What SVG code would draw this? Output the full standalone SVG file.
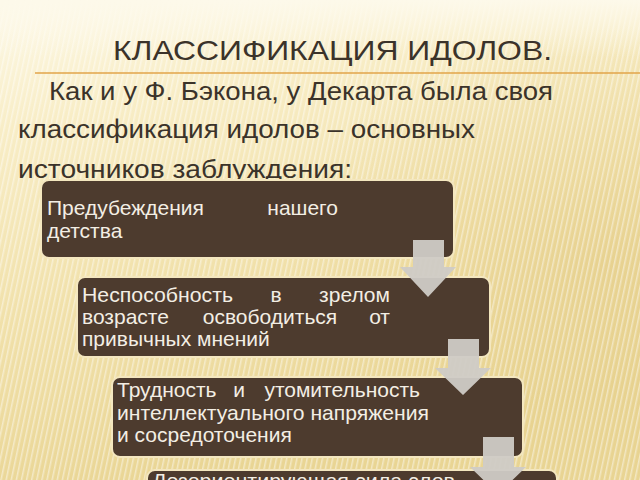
<svg xmlns="http://www.w3.org/2000/svg" width="640" height="480" viewBox="0 0 640 480">
<defs>
<linearGradient id="bg" x1="0" y1="0" x2="0.3" y2="1">
<stop offset="0" stop-color="#fdf9e8"/>
<stop offset="0.25" stop-color="#f8edc6"/>
<stop offset="0.6" stop-color="#f1e1ab"/>
<stop offset="1" stop-color="#e9d594"/>
</linearGradient>
<radialGradient id="glow" cx="0.95" cy="0.55" r="0.5">
<stop offset="0" stop-color="#e3cb85" stop-opacity="0.6"/>
<stop offset="1" stop-color="#e3cb85" stop-opacity="0"/>
</radialGradient>
<pattern id="stripes" width="5" height="40" patternUnits="userSpaceOnUse" patternTransform="rotate(12)">
<rect x="0" y="0" width="1.5" height="40" fill="#ffffff" opacity="0.45"/>
</pattern>
<linearGradient id="fadeTop" x1="0" y1="0" x2="0" y2="1">
<stop offset="0" stop-color="#fdf9ea" stop-opacity="1"/>
<stop offset="0.12" stop-color="#fdf9ea" stop-opacity="0"/>
</linearGradient>
<style>
.box{fill:#4d3b2e;stroke:#f4e7bf;stroke-width:2}
.bt{font-family:"Liberation Sans",Arial,sans-serif;font-size:21px;fill:#f3eee4}
.arrow{fill:#cfcbc6;opacity:0.95}
.title{font-family:"Liberation Sans",Arial,sans-serif;font-size:28px;fill:#3b332a}
.body{font-family:"Liberation Sans",Arial,sans-serif;font-size:25px;fill:#3b332a}
</style>
</defs>
<rect width="640" height="480" fill="url(#bg)"/>
<rect width="640" height="480" fill="url(#glow)"/>
<rect width="640" height="480" fill="url(#stripes)"/>
<rect width="640" height="480" fill="url(#fadeTop)"/>

<g id="header">
<text class="title" x="113" y="60" textLength="439" lengthAdjust="spacingAndGlyphs">КЛАССИФИКАЦИЯ ИДОЛОВ.</text>
<line x1="35" y1="73" x2="640" y2="73" stroke="#e2a54a" stroke-width="1.5"/>
<text class="body" x="49" y="100" textLength="504" lengthAdjust="spacingAndGlyphs">Как и у Ф. Бэкона, у Декарта была своя</text>
<text class="body" x="18" y="138" textLength="457" lengthAdjust="spacingAndGlyphs">классификация идолов – основных</text>
<text class="body" x="18" y="178" textLength="334" lengthAdjust="spacingAndGlyphs">источников заблуждения:</text>
</g>

<g id="node1">
<rect class="box" x="41" y="180" width="413" height="78" rx="8"/>
<text class="bt" x="47" y="215" textLength="157" lengthAdjust="spacingAndGlyphs">Предубеждения</text>
<text class="bt" x="338" y="215" text-anchor="end">нашего</text>
<text class="bt" x="47" y="238">детства</text>
</g>

<g id="node2">
<rect class="box" x="77" y="277" width="413" height="80" rx="8"/>
<text class="bt" x="82" y="302" textLength="151" lengthAdjust="spacingAndGlyphs">Неспособность</text>
<text class="bt" x="276" y="302" text-anchor="middle">в</text>
<text class="bt" x="390" y="302" text-anchor="end">зрелом</text>
<text class="bt" x="82" y="324">возрасте</text>
<text class="bt" x="270" y="324" text-anchor="middle">освободиться</text>
<text class="bt" x="390" y="324" text-anchor="end">от</text>
<text class="bt" x="82" y="346">привычных мнений</text>
</g>

<g id="node3">
<rect class="box" x="112" y="377" width="411" height="80" rx="8"/>
<text class="bt" x="117" y="397">Трудность</text>
<text class="bt" x="239" y="397" text-anchor="middle">и</text>
<text class="bt" x="420" y="397" text-anchor="end">утомительность</text>
<text class="bt" x="117" y="420" textLength="312" lengthAdjust="spacingAndGlyphs">интеллектуального напряжения</text>
<text class="bt" x="117" y="442">и сосредоточения</text>
</g>

<g id="node4">
<rect class="box" x="147" y="470" width="410" height="30" rx="8"/>
<text class="bt" x="152" y="488" textLength="303" lengthAdjust="spacingAndGlyphs">Дезориентирующая сила слов</text>
</g>

<g id="connectors">
<polygon class="arrow" points="413,240 444,240 444,267 456,267 428,297 400,267 413,267"/>
<polygon class="arrow" points="448,339 479,339 479,368 491,368 463,395 435,368 448,368"/>
<polygon class="arrow" points="483,437 514,437 514,467 526,467 498,494 470,467 483,467"/>
</g>
</svg>
